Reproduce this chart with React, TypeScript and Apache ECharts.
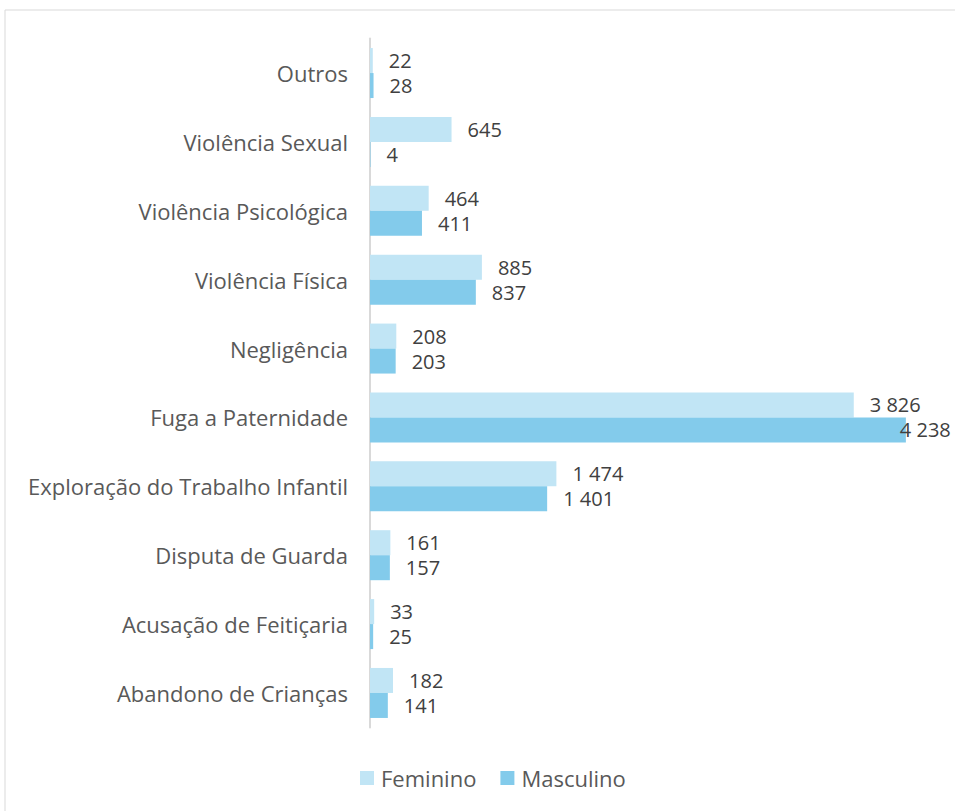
import React, { useEffect, useRef } from "react";
import * as echarts from "echarts";

const categories = [
  "Abandono de Crianças",
  "Acusação de Feitiçaria",
  "Disputa de Guarda",
  "Exploração do Trabalho Infantil",
  "Fuga a Paternidade",
  "Negligência",
  "Violência Física",
  "Violência Psicológica",
  "Violência Sexual",
  "Outros",
];
const feminino = [182, 33, 161, 1474, 3826, 208, 885, 464, 645, 22];
const masculino = [141, 25, 157, 1401, 4238, 203, 837, 411, 4, 28];
const seriesNames = ["Feminino", "Masculino"];

const fmt = (v: number) => String(v).replace(/\B(?=(\d{3})+(?!\d))/g, " ");
const FONT = "Open Sans";
const FS = 22;

export default function App() {
  const ref = useRef<HTMLDivElement>(null);
  useEffect(() => {
    const chart = echarts.init(ref.current!, null, { renderer: "svg" });
    const maxM = Math.max(...masculino);
    const labelBase = {
      show: true,
      position: "right",
      distance: 16,
      color: "#404040",
      fontSize: 20,
      lineHeight: 22,
      fontFamily: FONT,
      formatter: (p: any) => fmt(p.value),
    };
    chart.setOption({
      animation: false,
      textStyle: { fontFamily: FONT },
      graphic: [
        {
          type: "rect",
          shape: { x: 5, y: 10, width: 1000, height: 900 },
          style: { fill: "none", stroke: "#d9d9d9", lineWidth: 1 },
          silent: true,
        },
      ],
      legend: {
        data: seriesNames,
        bottom: 17,
        left: 355,
        itemWidth: 14,
        itemHeight: 14,
        itemGap: 24,
        icon: "rect",
        textStyle: {
          color: "#595959",
          fontSize: FS,
          fontFamily: FONT,
          padding: [0, 0, 0, 2],
        },
      },
      grid: { left: 370, right: 16, top: 38.6, bottom: 83.6, containLabel: false },
      xAxis: {
        type: "value",
        min: 0,
        max: 4500,
        show: false,
      },
      yAxis: {
        type: "category",
        data: categories,
        axisLine: { show: true, lineStyle: { color: "#d9d9d9", width: 2 } },
        axisTick: { show: false },
        axisLabel: { color: "#595959", fontSize: FS, fontFamily: FONT, margin: 22 },
      },
      series: [
        {
          name: "Feminino",
          type: "bar",
          data: feminino,
          barWidth: 25,
          barGap: "0%",
          itemStyle: { color: "#C1E5F5" },
          label: labelBase,
        },
        {
          name: "Masculino",
          type: "bar",
          data: masculino.map((v) =>
            v === maxM ? { value: v, label: { distance: 0, offset: [-6, 0] } } : v
          ),
          barWidth: 25,
          barGap: "0%",
          itemStyle: { color: "#83CBEB" },
          label: labelBase,
        },
      ],
    });
    return () => chart.dispose();
  }, []);
  return (
    <div
      ref={ref}
      style={{ position: "fixed", left: 0, top: 0, width: 955, height: 811, background: "#fff" }}
    />
  );
}
